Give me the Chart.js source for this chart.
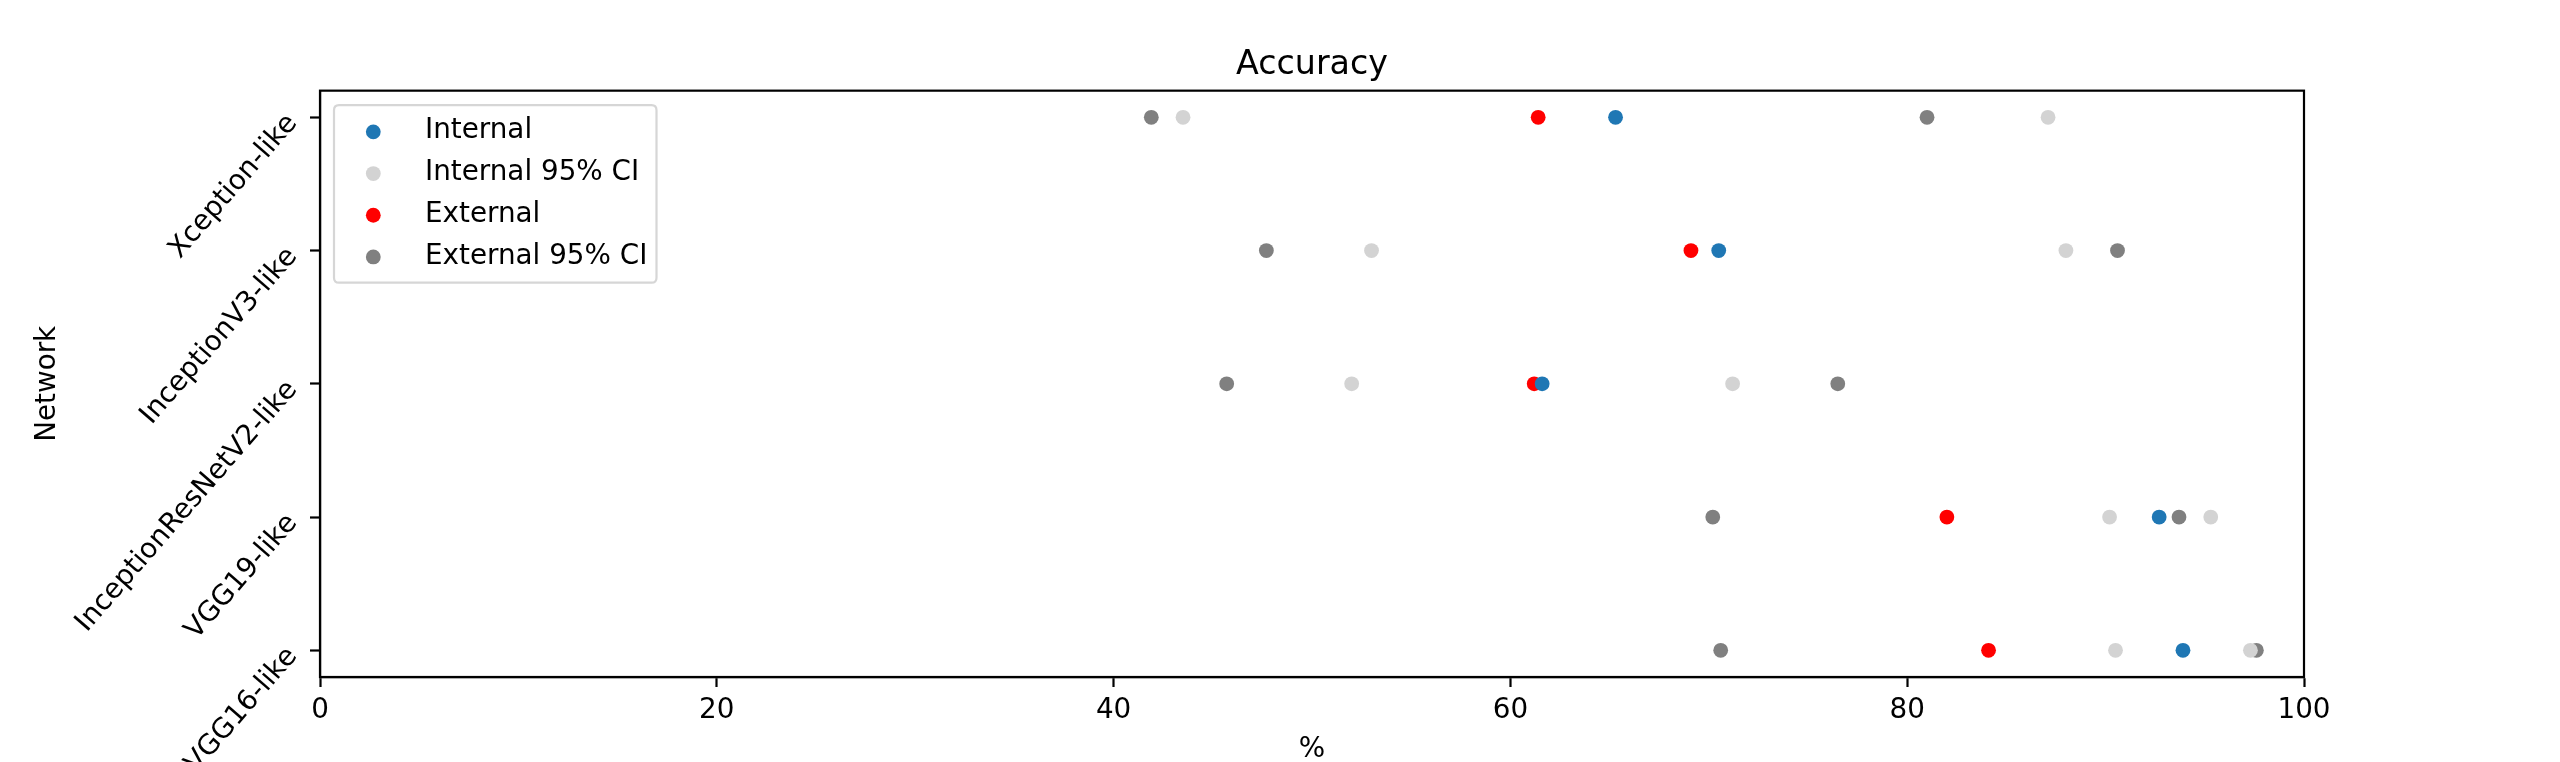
<!DOCTYPE html>
<html>
<head>
<meta charset="utf-8">
<script src="https://cdn.jsdelivr.net/npm/chart.js@4.4.1/dist/chart.umd.min.js"></script>
<style>
  html, body { margin: 0; padding: 0; background: #ffffff; }
  #wrap { width: 2560px; height: 762px; position: relative; }
</style>
</head>
<body>
<div id="wrap"><canvas id="c" width="2560" height="762"></canvas></div>
<script>
// ---- data ----
const categories = ['Xception-like', 'InceptionV3-like', 'InceptionResNetV2-like', 'VGG19-like', 'VGG16-like'];
const internalAcc = [65.3, 70.5, 61.6, 92.7, 93.9];
const internalCILow = [43.5, 53.0, 52.0, 90.2, 90.5];
const internalCIHigh = [87.1, 88.0, 71.2, 95.3, 97.3];
const externalAcc = [61.4, 69.1, 61.2, 82.0, 84.1];
const externalCILow = [41.9, 47.7, 45.7, 70.2, 70.6];
const externalCIHigh = [81.0, 90.6, 76.5, 93.7, 97.6];
const xTicks = [0, 20, 40, 60, 80, 100];
const seriesNames = ['Internal', 'Internal 95% CI', 'External', 'External 95% CI'];
const seriesColors = ['#1f77b4', '#d3d3d3', '#ff0000', '#808080'];

// ---- build points ----
function pts(vals) { return vals.map((v, i) => ({ x: v, y: i })); }
function ciPts(lo, hi) {
  const out = [];
  lo.forEach((v, i) => { out.push({ x: v, y: i }); out.push({ x: hi[i], y: i }); });
  return out;
}
const FONT = 'DejaVu Sans';
const FS = 27.8;

const dataSets = [pts(internalAcc), ciPts(internalCILow, internalCIHigh), pts(externalAcc), ciPts(externalCILow, externalCIHigh)];

const datasets = seriesNames.map((name, k) => ({
  label: name,
  data: dataSets[k],
  backgroundColor: seriesColors[k],
  borderColor: seriesColors[k],
  borderWidth: 0,
  pointRadius: 7.4,
  pointHoverRadius: 7.4,
  order: 0
}));

// ---- plugins ----
const framePlugin = {
  id: 'frame',
  afterDraw(chart) {
    const { ctx, chartArea: a } = chart;
    ctx.save();
    ctx.strokeStyle = '#000';
    ctx.lineWidth = 2.2;
    ctx.strokeRect(a.left, a.top, a.right - a.left, a.bottom - a.top);
    ctx.restore();
  }
};

const yLabelPlugin = {
  id: 'ylabels',
  afterDraw(chart) {
    const { ctx, chartArea: a } = chart;
    const ys = chart.scales.y;
    ctx.save();
    ctx.font = FS + 'px "' + FONT + '"';
    ctx.fillStyle = '#000';
    ctx.textAlign = 'right';
    ctx.textBaseline = 'alphabetic';
    categories.forEach((lab, i) => {
      const py = ys.getPixelForValue(i);
      ctx.save();
      ctx.translate(a.left - 22, py + 6);
      ctx.rotate(-49 * Math.PI / 180);
      ctx.fillText(lab, 0, 0);
      ctx.restore();
    });
    ctx.restore();
  }
};

const legendPlugin = {
  id: 'boxlegend',
  afterDraw(chart) {
    const { ctx, chartArea: a } = chart;
    const x0 = a.left + 14, y0 = a.top + 14.5, w = 322.5, h = 177.5, r = 5;
    ctx.save();
    ctx.beginPath();
    ctx.moveTo(x0 + r, y0);
    ctx.lineTo(x0 + w - r, y0);
    ctx.quadraticCurveTo(x0 + w, y0, x0 + w, y0 + r);
    ctx.lineTo(x0 + w, y0 + h - r);
    ctx.quadraticCurveTo(x0 + w, y0 + h, x0 + w - r, y0 + h);
    ctx.lineTo(x0 + r, y0 + h);
    ctx.quadraticCurveTo(x0, y0 + h, x0, y0 + h - r);
    ctx.lineTo(x0, y0 + r);
    ctx.quadraticCurveTo(x0, y0, x0 + r, y0);
    ctx.closePath();
    ctx.fillStyle = 'rgba(255,255,255,0.8)';
    ctx.fill();
    ctx.strokeStyle = '#d6d6d6';
    ctx.lineWidth = 2.2;
    ctx.stroke();
    ctx.font = FS + 'px "' + FONT + '"';
    ctx.textAlign = 'left';
    ctx.textBaseline = 'alphabetic';
    chart.data.datasets.forEach((ds, k) => {
      const cy = y0 + 26.7 + k * 41.7;
      ctx.beginPath();
      ctx.arc(x0 + 39.3, cy, 7.4, 0, Math.PI * 2);
      ctx.fillStyle = ds.backgroundColor;
      ctx.fill();
      ctx.fillStyle = '#000';
      ctx.fillText(ds.label, x0 + 91, cy + 6.6);
    });
    ctx.restore();
  }
};

new Chart(document.getElementById('c'), {
  type: 'scatter',
  data: { datasets },
  options: {
    responsive: false,
    animation: false,
    devicePixelRatio: 1,
    layout: { padding: { left: 0, right: 256, top: 0, bottom: 0 } },
    plugins: {
      legend: { display: false },
      tooltip: { enabled: false },
      title: {
        display: true,
        text: 'Accuracy',
        fullSize: false,
        color: '#000',
        font: { family: FONT, size: 33.3, weight: 'normal', lineHeight: 1.2 },
        padding: { top: 45.5, bottom: 5.2 }
      }
    },
    scales: {
      x: {
        type: 'linear',
        min: 0,
        max: 100,
        afterBuildTicks(scale) { scale.ticks = xTicks.map(v => ({ value: v })); },
        afterFit(scale) { scale.height = 85; },
        ticks: {
          color: '#000',
          font: { family: FONT, size: FS },
          padding: 7,
          maxRotation: 0,
          autoSkip: false,
          callback: (v) => String(v)
        },
        grid: { drawOnChartArea: false, drawTicks: true, tickLength: 10, tickColor: '#000', tickWidth: 2.2 },
        border: { display: true, color: '#000', width: 2.2 },
        title: {
          display: true,
          text: '%',
          color: '#000',
          font: { family: FONT, size: FS, lineHeight: 0.9 },
          padding: { top: 0, bottom: 0 }
        }
      },
      y: {
        type: 'linear',
        reverse: true,
        min: -0.2,
        max: 4.2,
        afterBuildTicks(scale) { scale.ticks = categories.map((c, i) => ({ value: i })); },
        afterFit(scale) { scale.width = 320; },
        ticks: { display: false },
        grid: { drawOnChartArea: false, drawTicks: true, tickLength: 10, tickColor: '#000', tickWidth: 2.2 },
        border: { display: true, color: '#000', width: 2.2 },
        title: {
          display: true,
          text: 'Network',
          color: '#000',
          font: { family: FONT, size: FS, lineHeight: 1.2 },
          padding: { top: 31, bottom: 0 }
        }
      }
    }
  },
  plugins: [framePlugin, yLabelPlugin, legendPlugin]
});
</script>
</body>
</html>
